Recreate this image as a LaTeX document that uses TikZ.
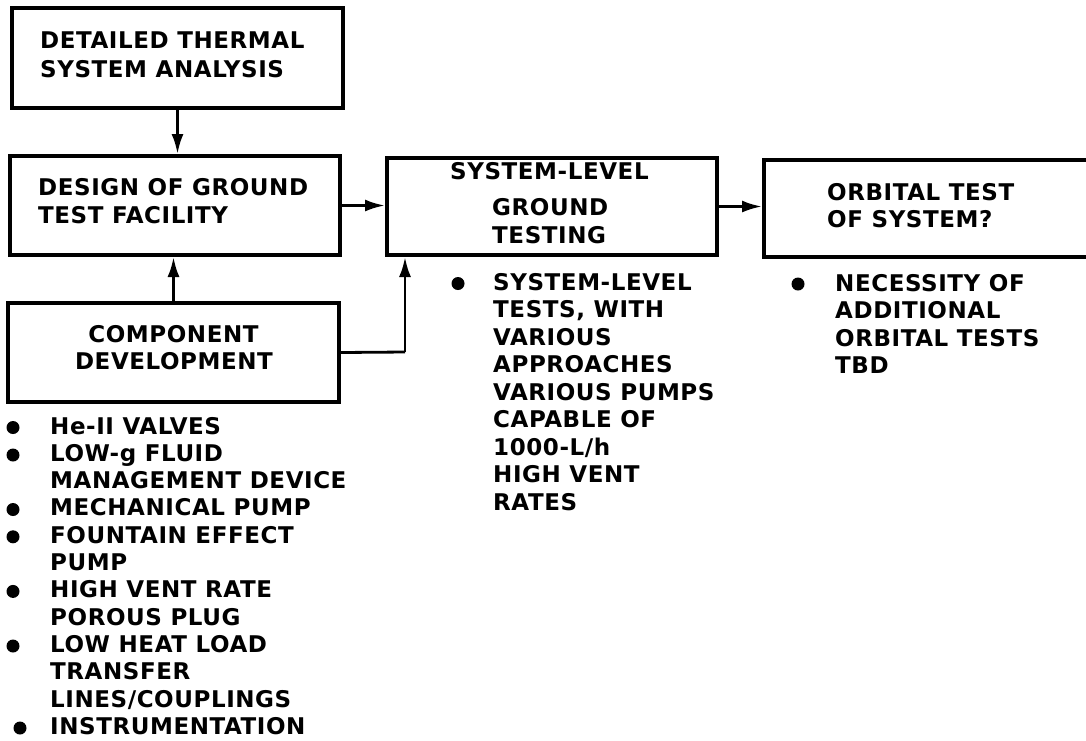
\documentclass[tikz,border=0pt]{standalone}
\usepackage{fontspec}
\setmainfont{DejaVu Sans}[LetterSpace=2.5]
\usetikzlibrary{arrows.meta}
\tikzset{
  box/.style={draw, line width=4pt, minimum width=#1, inner sep=0pt},
  lbl/.style={anchor=base west, inner sep=0pt, font=\fontsize{23}{27}\selectfont\bfseries},
  dot/.style={circle, fill, inner sep=0pt, minimum size=13pt},
  conn/.style={line width=2.8pt, -{Latex[length=20pt,width=12pt]}},
  wire/.style={line width=2.8pt}
}
\begin{document}
\begin{tikzpicture}[x=1pt,y=-1pt]
\useasboundingbox (0,0) rectangle (1086,740);
\clip (0,0) rectangle (1086,740);
% boxes
\node[box=331pt, minimum height=100pt] (b1) at (177.5,58) {};
\node[box=330pt, minimum height=99pt] (b2) at (175,205.5) {};
\node[box=331pt, minimum height=99pt] (b3c) at (173.5,352.5) {};
\node[box=330pt, minimum height=97pt] (b4) at (552,206.5) {};
\node[box=331pt, minimum height=97pt] (b5) at (929.5,208.5) {};
% box texts
\node[lbl] (t1a) at (40,48.5) {DETAILED THERMAL};
\node[lbl] (t1b) at (40,77.5) {SYSTEM ANALYSIS};
\node[lbl] (t2a) at (38,195.5) {DESIGN OF GROUND};
\node[lbl] (t2b) at (38,223.5) {TEST FACILITY};
\node[lbl, anchor=base] (t3a) at (173.5,342.5) {COMPONENT};
\node[lbl, anchor=base] (t3b) at (174,369.5) {DEVELOPMENT};
\node[lbl] (t4a) at (450,179) {SYSTEM-LEVEL};
\node[lbl] (t4b) at (492,215) {GROUND};
\node[lbl] (t4c) at (492,243) {TESTING};
\node[lbl] (t5a) at (827,200) {ORBITAL TEST};
\node[lbl] (t5b) at (827,227) {OF SYSTEM?};
% connectors
\draw[conn] (b1.south) -- (b1.south |- b2.north);
\draw[conn] (b3c.north) -- (b3c.north |- b2.south);
\draw[conn] (b2.east) -- (b4.west |- b2.east);
\coordinate (c1) at (405,352);
\draw[wire] (b3c.east) -- (c1);
\draw[conn] (c1) -- (c1 |- b4.south);
\draw[conn] (b4.east) -- (b5.west |- b4.east);
% left list
\node[dot] (d1) at (13,427.5) {};
\node[lbl] (l1) at (50,434) {He-II VALVES};
\node[dot] (d2) at (13,455) {};
\node[lbl] (l2) at (50,461.3) {LOW-g FLUID};
\node[lbl] (l3) at (50,488.6) {MANAGEMENT DEVICE};
\node[dot] (d4) at (13,509.5) {};
\node[lbl] (l4) at (50,515.9) {MECHANICAL PUMP};
\node[dot] (d5) at (13,536.8) {};
\node[lbl] (l5) at (50,543.2) {FOUNTAIN EFFECT};
\node[lbl] (l6) at (50,570.5) {PUMP};
\node[dot] (d7) at (13,591.4) {};
\node[lbl] (l7) at (50,597.8) {HIGH VENT RATE};
\node[lbl] (l8) at (50,625.1) {POROUS PLUG};
\node[dot] (d9) at (13,646) {};
\node[lbl] (l9) at (50,652.4) {LOW HEAT LOAD};
\node[lbl] (l10) at (50,679.7) {TRANSFER};
\node[lbl] (l11) at (50,707) {LINES/COUPLINGS};
\node[dot] (d12) at (20,728) {};
\node[lbl] (l12) at (50,734.3) {INSTRUMENTATION};
% middle list
\node[dot] (m0) at (458,283.5) {};
\node[lbl] (m1) at (493,290) {SYSTEM-LEVEL};
\node[lbl] (m2) at (493,317.5) {TESTS, WITH};
\node[lbl] (m3) at (493,345) {VARIOUS};
\node[lbl] (m4) at (493,372.5) {APPROACHES};
\node[lbl] (m5) at (493,400) {VARIOUS PUMPS};
\node[lbl] (m6) at (493,427.5) {CAPABLE OF};
\node[lbl] (m7) at (493,455) {1000-L/h};
\node[lbl] (m8) at (493,482.5) {HIGH VENT};
\node[lbl] (m9) at (493,510) {RATES};
% right list
\node[dot] (r0) at (798,284) {};
\node[lbl] (r1) at (835,291) {NECESSITY OF};
\node[lbl] (r2) at (835,318.5) {ADDITIONAL};
\node[lbl] (r3) at (835,346) {ORBITAL TESTS};
\node[lbl] (r4) at (835,373) {TBD};
\end{tikzpicture}
\end{document}
